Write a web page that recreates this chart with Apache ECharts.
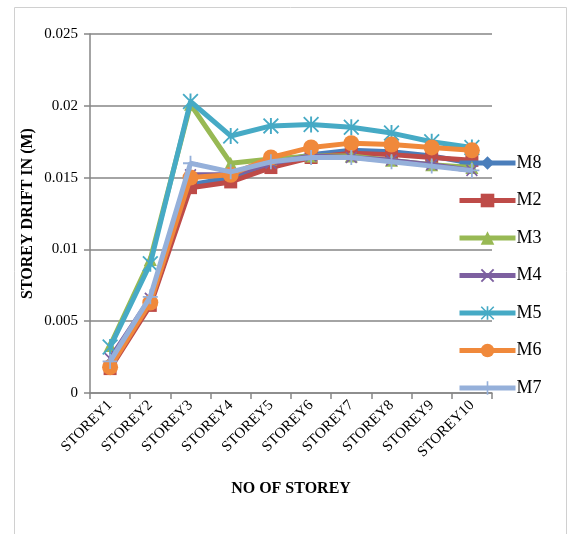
<!DOCTYPE html>
<html>
<head>
<meta charset="utf-8">
<script src="https://cdn.jsdelivr.net/npm/echarts@6/dist/echarts.min.js"></script>
<style>html,body{margin:0;padding:0;background:#fff}#c{width:568px;height:534px}</style>
</head>
<body>
<div id="c"></div>
<script>
const categories = ['STOREY1','STOREY2','STOREY3','STOREY4','STOREY5','STOREY6','STOREY7','STOREY8','STOREY9','STOREY10'];
const yTicks = [0, 0.005, 0.01, 0.015, 0.02, 0.025];
const M8 = [0.0021, 0.0062, 0.0145, 0.0150, 0.0160, 0.0166, 0.0169, 0.0168, 0.0165, 0.0160];
const M2 = [0.0017, 0.0061, 0.0143, 0.0147, 0.0157, 0.0164, 0.0167, 0.0166, 0.0164, 0.0162];
const M3 = [0.0033, 0.0093, 0.0201, 0.0160, 0.0163, 0.0165, 0.0165, 0.0162, 0.0159, 0.0157];
const M4 = [0.0024, 0.0066, 0.0152, 0.0152, 0.0160, 0.0165, 0.0164, 0.0162, 0.0159, 0.0155];
const M5 = [0.0032, 0.0090, 0.0203, 0.0179, 0.0186, 0.0187, 0.0185, 0.0181, 0.0175, 0.0171];
const M6 = [0.0018, 0.0063, 0.0150, 0.0152, 0.0164, 0.0171, 0.0174, 0.0173, 0.0171, 0.0169];
const M7 = [0.0022, 0.0067, 0.0160, 0.0154, 0.0161, 0.0164, 0.0164, 0.0161, 0.0158, 0.0155];

const seriesNames = ['M8','M2','M3','M4','M5','M6','M7'];
const seriesData = [M8, M2, M3, M4, M5, M6, M7];
const colors = ['#4A7EBB','#BE4B48','#98B954','#7D60A0','#46AAC5','#F0893B','#95B0DA'];
const X_PATH = 'path://M0,1L1,0L5,4L9,0L10,1L6,5L10,9L9,10L5,6L1,10L0,9L4,5Z';
const PLUS_PATH = 'path://M4.4,0H5.6V4.4H10V5.6H5.6V10H4.4V5.6H0V4.4H4.4Z';
const STAR_PATH = 'path://M0,0.8L0.8,0L5,4.2L9.2,0L10,0.8L5.8,5L10,9.2L9.2,10L5,5.8L0.8,10L0,9.2L4.2,5Z M4.4,0H5.6V10H4.4Z';
const symbols = ['diamond','rect','triangle', X_PATH, STAR_PATH, 'circle', PLUS_PATH];
const sizes = [12, 13, 13, 12, 16, 16, 15];

const serif = '"Liberation Serif","Times New Roman",serif';
const chart = echarts.init(document.getElementById('c'));
chart.setOption({
  animation: false,
  graphic: [{
    type: 'rect', shape: {x: 14.5, y: 7.5, width: 552, height: 540},
    style: {fill: 'none', stroke: '#d0d0d0', lineWidth: 1}, silent: true
  }],
  grid: {left: 90, top: 34, right: 76, bottom: 141},
  legend: {
    orient: 'vertical', left: 457, top: 154, padding: 0,
    itemWidth: 56, itemHeight: 17, itemGap: 19.5,
    data: seriesNames,
    lineStyle: {width: 5},
    textStyle: {fontFamily: serif, fontSize: 18, color: '#000', padding: [0,0,0,-4]}
  },
  xAxis: {
    type: 'category', data: categories, boundaryGap: true,
    name: 'NO OF STOREY', nameLocation: 'middle', nameGap: 88,
    nameTextStyle: {fontFamily: serif, fontSize: 16, fontWeight: 'bold', color: '#000'},
    axisLine: {lineStyle: {color: '#868686', width: 1.5}},
    axisTick: {show: true, alignWithLabel: false, length: 6, lineStyle: {color: '#868686', width: 1.5}},
    axisLabel: {rotate: 45, fontFamily: serif, fontSize: 15, color: '#000', margin: 10, interval: 0}
  },
  yAxis: {
    type: 'value', min: 0, max: 0.025, interval: 0.005,
    name: 'STOREY DRIFT IN (M)', nameLocation: 'middle', nameGap: 54, nameRotate: 90,
    nameMoveOverlap: false,
    nameTextStyle: {fontFamily: serif, fontSize: 16, fontWeight: 'bold', color: '#000'},
    axisLine: {show: true, lineStyle: {color: '#868686', width: 1.5}},
    axisTick: {show: true, length: 6, lineStyle: {color: '#868686', width: 1.5}},
    splitLine: {lineStyle: {color: '#868686', width: 1.5}},
    axisLabel: {fontFamily: serif, fontSize: 15, color: '#000', margin: 12,
      formatter: v => { const t = yTicks.find(x => Math.abs(x - v) < 1e-9); return String(t !== undefined ? t : v); }}
  },
  series: seriesNames.map((n, i) => ({
    name: n, type: 'line', data: seriesData[i],
    symbol: symbols[i], symbolSize: sizes[i], showAllSymbol: true,
    lineStyle: {color: colors[i], width: 5},
    itemStyle: {color: colors[i]},
    z: 2 + i
  }))
});
</script>
</body>
</html>
